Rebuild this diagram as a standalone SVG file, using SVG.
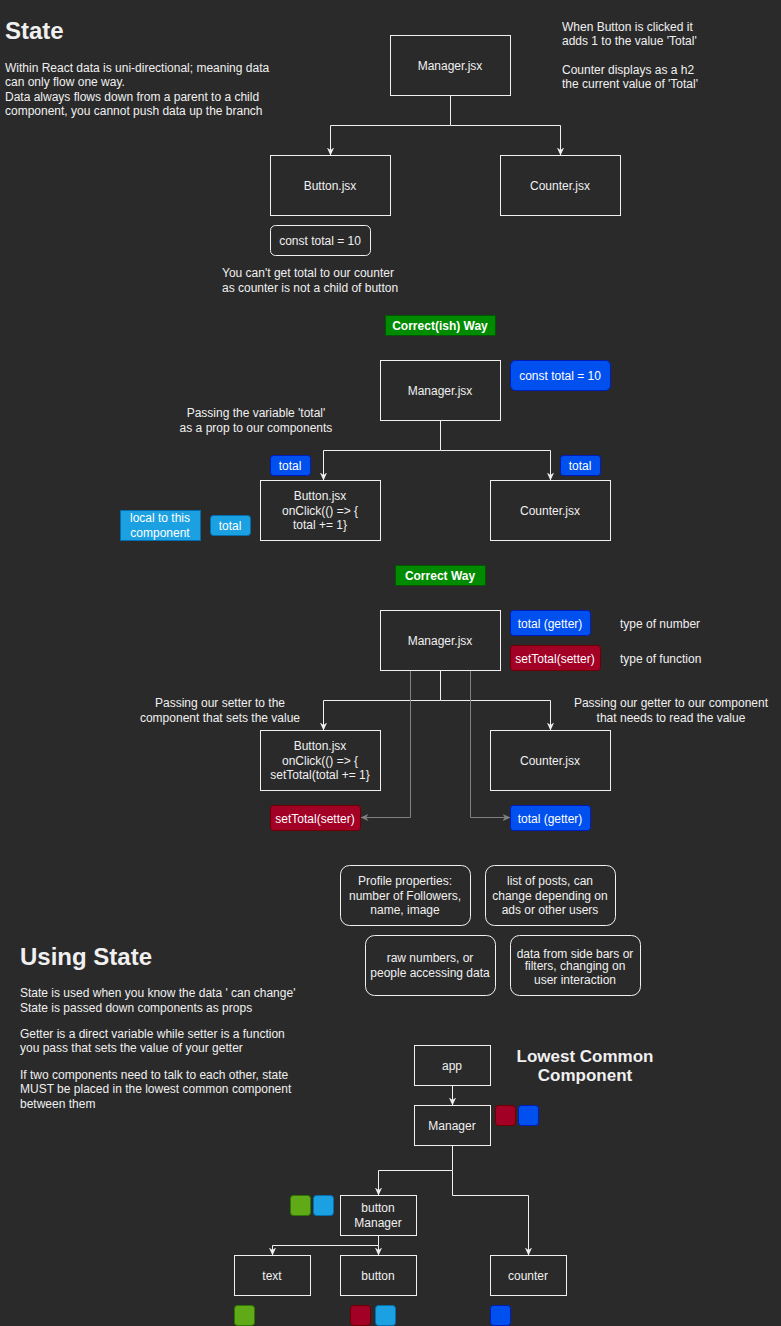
<svg xmlns="http://www.w3.org/2000/svg" width="781" height="1326" viewBox="0 0 781 1326">
<style>
text{font-family:"Liberation Sans",Arial,sans-serif;font-size:12px;fill:#f0f0f0}
.c{text-anchor:middle}
.h{font-size:24px;font-weight:bold}
.b{font-weight:bold}
.box{fill:#2a2a2a;stroke:#f0f0f0;stroke-width:1}
.rbox{fill:none;stroke:#f0f0f0;stroke-width:1}
.blue{fill:#0050ef;stroke:#001dbc}
.red{fill:#a20025;stroke:#6f0000}
.lb{fill:#1ba1e2;stroke:#006eaf}
.green{fill:#008a00;stroke:#005700}
.lg{fill:#60a917;stroke:#2d7600}
.ln{fill:none;stroke:#f0f0f0;stroke-width:1}
.gl{fill:none;stroke:#808080;stroke-width:1}
.wt{fill:#ffffff}
</style>
<defs>
<marker id="aw" viewBox="0 0 10 10" refX="10" refY="5" markerWidth="8" markerHeight="8" orient="auto" markerUnits="userSpaceOnUse"><path d="M0,0.5 L10,5 L0,9.5 L3,5 Z" fill="#f0f0f0"/></marker>
<marker id="ag" viewBox="0 0 10 10" refX="10" refY="5" markerWidth="8" markerHeight="8" orient="auto" markerUnits="userSpaceOnUse"><path d="M0,0.5 L10,5 L0,9.5 L3,5 Z" fill="#808080"/></marker>
</defs>
<rect x="0" y="0" width="781" height="1326" fill="#2a2a2a"/>

<g id="title-state"><text x="5" y="39" class="h">State</text></g>
<g id="intro-text"><text x="5" y="72">Within React data is uni-directional; meaning data</text><text x="5" y="86.3">can only flow one way.</text><text x="5" y="101">Data always flows down from a parent to a child</text><text x="5" y="114.6">component, you cannot push data up the branch</text></g>
<g id="note-top"><text x="562" y="31">When Button is clicked it</text><text x="562" y="45">adds 1 to the value 'Total'</text><text x="562" y="74.3">Counter displays as a h2</text><text x="562" y="88.3">the current value of 'Total'</text></g>

<g id="connectors" transform="translate(0.5,0.5)">
<path class="ln" d="M450,95 V125 H330 V155" marker-end="url(#aw)"/>
<path class="ln" d="M450,125 H560 V155" marker-end="url(#aw)"/>
<path class="ln" d="M440,420 V450 H323 V480" marker-end="url(#aw)"/>
<path class="ln" d="M440,450 H550 V480" marker-end="url(#aw)"/>
<path class="ln" d="M440,670 V700 H323 V730" marker-end="url(#aw)"/>
<path class="ln" d="M440,700 H550 V730" marker-end="url(#aw)"/>
<path class="gl" d="M410,670 V817 H360" marker-end="url(#ag)"/>
<path class="gl" d="M470,670 V817 H510" marker-end="url(#ag)"/>
<path class="ln" d="M452,1085 V1105" marker-end="url(#aw)"/>
<path class="ln" d="M452,1145 V1170 H378 V1195" marker-end="url(#aw)"/>
<path class="ln" d="M452,1170 V1195 H528 V1255" marker-end="url(#aw)"/>
<path class="ln" d="M378,1235 V1245 H272 V1255" marker-end="url(#aw)"/>
<path class="ln" d="M378,1245 V1255" marker-end="url(#aw)"/>
</g>

<g id="manager1"><rect class="box" x="390.5" y="35.5" width="120" height="60"/><text x="450" y="69.5" class="c">Manager.jsx</text></g>
<g id="button1"><rect class="box" x="270.5" y="155.5" width="120" height="60"/><text x="330" y="189.5" class="c">Button.jsx</text></g>
<g id="counter1"><rect class="box" x="500.5" y="155.5" width="120" height="60"/><text x="560" y="189.5" class="c">Counter.jsx</text></g>
<g id="const1"><rect class="rbox" x="270.5" y="225.5" width="100" height="30" rx="5"/><text x="320" y="244.5" class="c">const total = 10</text></g>
<g id="note-cant"><text x="222" y="277">You can't get total to our counter</text><text x="222" y="292">as counter is not a child of button</text></g>
<g id="label-correctish"><rect class="green" x="385.5" y="315.5" width="110" height="20"/><text x="440" y="330" class="c b wt">Correct(ish) Way</text></g>

<g id="manager2"><rect class="box" x="380.5" y="360.5" width="120" height="60"/><text x="440" y="394.5" class="c">Manager.jsx</text></g>
<g id="const2"><rect class="blue" x="510.5" y="360.5" width="100" height="30" rx="5"/><text x="560" y="379.5" class="c wt">const total = 10</text></g>
<g id="note-passing"><text x="256" y="416.6" class="c">Passing the variable 'total'</text><text x="256" y="432" class="c">as a prop to our components</text></g>
<g id="total-left"><rect class="blue" x="270.5" y="455.5" width="40" height="20" rx="3"/><text x="290" y="469.5" class="c wt">total</text></g>
<g id="total-right"><rect class="blue" x="560.5" y="455.5" width="40" height="20" rx="3"/><text x="580" y="469.5" class="c wt">total</text></g>
<g id="button2"><rect class="box" x="260.5" y="480.5" width="120" height="60"/><text x="320" y="500" class="c">Button.jsx</text><text x="320" y="515.3" class="c">onClick(() =&gt; {</text><text x="320" y="528.6" class="c">total += 1}</text></g>
<g id="counter2"><rect class="box" x="490.5" y="480.5" width="120" height="60"/><text x="550" y="514.5" class="c">Counter.jsx</text></g>
<g id="local-label"><rect class="lb" x="120.5" y="510.5" width="80" height="30"/><text x="160" y="521.6" class="c wt">local to this</text><text x="160" y="537" class="c wt">component</text></g>
<g id="total-local"><rect class="lb" x="210.5" y="515.5" width="40" height="20" rx="3"/><text x="230" y="529.5" class="c wt">total</text></g>

<g id="label-correct"><rect class="green" x="395.5" y="565.5" width="90" height="20"/><text x="440" y="580" class="c b wt">Correct Way</text></g>
<g id="manager3"><rect class="box" x="380.5" y="610.5" width="120" height="60"/><text x="440" y="644.5" class="c">Manager.jsx</text></g>
<g id="getter-top"><rect class="blue" x="510.5" y="610.5" width="80" height="25" rx="3"/><text x="550" y="627.5" class="c wt">total (getter)</text></g>
<g id="setter-top"><rect class="red" x="510.5" y="645.5" width="90" height="25" rx="3"/><text x="555" y="662.5" class="c wt">setTotal(setter)</text></g>
<g id="type-number"><text x="620" y="628">type of number</text></g>
<g id="type-function"><text x="620" y="663">type of function</text></g>
<g id="note-setter"><text x="220" y="707" class="c">Passing our setter to the</text><text x="220" y="722" class="c">component that sets the value</text></g>
<g id="note-getter"><text x="671" y="707" class="c">Passing our getter to our component</text><text x="671" y="722" class="c">that needs to read the value</text></g>
<g id="button3"><rect class="box" x="260.5" y="730.5" width="120" height="60"/><text x="320" y="750" class="c">Button.jsx</text><text x="320" y="765" class="c">onClick(() =&gt; {</text><text x="320" y="779" class="c">setTotal(total += 1}</text></g>
<g id="counter3"><rect class="box" x="490.5" y="730.5" width="120" height="60"/><text x="550" y="764.5" class="c">Counter.jsx</text></g>
<g id="setter-bottom"><rect class="red" x="270.5" y="805.5" width="90" height="25" rx="3"/><text x="315" y="822.5" class="c wt">setTotal(setter)</text></g>
<g id="getter-bottom"><rect class="blue" x="510.5" y="805.5" width="80" height="25" rx="3"/><text x="550" y="822.5" class="c wt">total (getter)</text></g>

<g id="ex-profile"><rect class="rbox" x="340.5" y="865.5" width="130" height="60" rx="9"/><text x="405" y="885.3" class="c">Profile properties:</text><text x="405" y="900" class="c">number of Followers,</text><text x="405" y="914.3" class="c">name, image</text></g>
<g id="ex-posts"><rect class="rbox" x="485.5" y="865.5" width="130" height="60" rx="9"/><text x="550" y="885.3" class="c">list of posts, can</text><text x="550" y="900" class="c">change depending on</text><text x="550" y="914.3" class="c">ads or other users</text></g>
<g id="ex-raw"><rect class="rbox" x="365.5" y="935.5" width="130" height="60" rx="9"/><text x="430" y="962.3" class="c">raw numbers, or</text><text x="430" y="977.3" class="c">people accessing data</text></g>
<g id="ex-side"><rect class="rbox" x="510.5" y="935.5" width="130" height="60" rx="9"/><text x="575" y="957.6" class="c">data from side bars or</text><text x="575" y="970.3" class="c">filters, changing on</text><text x="575" y="984.3" class="c">user interaction</text></g>

<g id="title-using"><text x="20" y="964.6" class="h">Using State</text></g>
<g id="using-text"><text x="20" y="997">State is used when you know the data ' can change'</text><text x="20" y="1011.6">State is passed down components as props</text><text x="20" y="1038.3">Getter is a direct variable while setter is a function</text><text x="20" y="1052">you pass that sets the value of your getter</text><text x="20" y="1079">If two components need to talk to each other, state</text><text x="20" y="1093.3">MUST be placed in the lowest common component</text><text x="20" y="1107.6">between them</text></g>
<g id="title-lowest"><text x="585" y="1061.7" class="c b" style="font-size:17px">Lowest Common</text><text x="585" y="1081" class="c b" style="font-size:17px">Component</text></g>

<g id="app"><rect class="box" x="414.5" y="1045.5" width="76" height="40"/><text x="452" y="1069.5" class="c">app</text></g>
<g id="manager4"><rect class="box" x="414.5" y="1105.5" width="76" height="40"/><text x="452" y="1129.5" class="c">Manager</text></g>
<g id="manager4-state"><rect class="red" x="495.5" y="1105.5" width="20" height="20" rx="3"/><rect class="blue" x="518.5" y="1105.5" width="20" height="20" rx="3"/></g>
<g id="button-manager"><rect class="box" x="340.5" y="1195.5" width="76" height="40"/><text x="378" y="1212" class="c">button</text><text x="378" y="1227" class="c">Manager</text></g>
<g id="button-manager-state"><rect class="lg" x="290.5" y="1195.5" width="20" height="20" rx="3"/><rect class="lb" x="313.5" y="1195.5" width="20" height="20" rx="3"/></g>
<g id="text-node"><rect class="box" x="234.5" y="1255.5" width="76" height="40"/><text x="272" y="1279.5" class="c">text</text></g>
<g id="button-node"><rect class="box" x="340.5" y="1255.5" width="76" height="40"/><text x="378" y="1279.5" class="c">button</text></g>
<g id="counter-node"><rect class="box" x="490.5" y="1255.5" width="76" height="40"/><text x="528" y="1279.5" class="c">counter</text></g>
<g id="text-state"><rect class="lg" x="234.5" y="1305.5" width="20" height="20" rx="3"/></g>
<g id="button-state"><rect class="red" x="350.5" y="1305.5" width="20" height="20" rx="3"/><rect class="lb" x="375.5" y="1305.5" width="20" height="20" rx="3"/></g>
<g id="counter-state"><rect class="blue" x="490.5" y="1305.5" width="20" height="20" rx="3"/></g>
</svg>
